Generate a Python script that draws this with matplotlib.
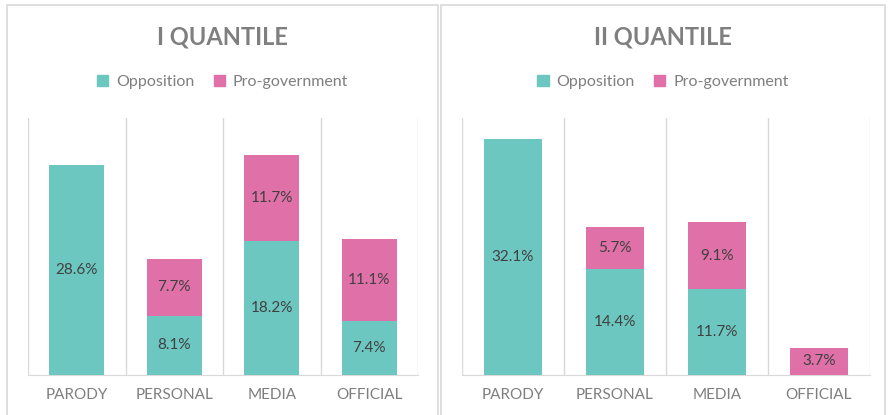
import matplotlib.pyplot as plt
from matplotlib.patches import Rectangle, Patch

plt.rcParams['font.family'] = ['Lato', 'DejaVu Sans']

categories = ["PARODY", "PERSONAL", "MEDIA", "OFFICIAL"]
titles = ["I QUANTILE", "II QUANTILE"]
opposition = [[28.6, 8.1, 18.2, 7.4], [32.1, 14.4, 11.7, 0.0]]
progov = [[0.0, 7.7, 11.7, 11.1], [0.0, 5.7, 9.1, 3.7]]

teal = "#6CC7C1"
pink = "#E070A8"
grid_c = "#D9D9D9"
text_c = "#7F7F7F"
lab_c = "#404040"

W, H = 889, 415
fig = plt.figure(figsize=(W / 100, H / 100), dpi=100)

# panel frames (pixel coords, y from top)
for x0, x1 in [(7, 438), (441, 885)]:
    fig.patches.append(Rectangle((x0 / W, -0.01), (x1 - x0) / W, 1 - 5 / H + 0.01,
                                 transform=fig.transFigure, fill=False,
                                 edgecolor=grid_c, lw=1.2))

axes_px = [(28, 418), (462, 870)]
centers = [(7 + 438) / 2, (441 + 885) / 2]

for i in range(2):
    x0, x1 = axes_px[i]
    ax = fig.add_axes([x0 / W, (H - 375) / H, (x1 - x0) / W, (375 - 118) / H])
    pos = range(len(categories))
    ax.bar(pos, opposition[i], width=0.56, color=teal, zorder=3)
    ax.bar(pos, progov[i], width=0.56, bottom=opposition[i], color=pink, zorder=3)
    for j in pos:
        o, p = opposition[i][j], progov[i][j]
        if o > 0:
            ax.text(j, o / 2, f"{o:.1f}%", ha="center", va="center", color=lab_c, fontsize=11, zorder=4)
        if p > 0:
            ax.text(j, o + p / 2, f"{p:.1f}%", ha="center", va="center", color=lab_c, fontsize=11, zorder=4)
    ax.set_xlim(-0.5, 3.5)
    ax.set_ylim(0, 35)
    for b in [-0.5, 0.5, 1.5, 2.5, 3.5]:
        ax.axvline(b, color=grid_c, lw=1, zorder=1)
    for s in ["top", "left", "right"]:
        ax.spines[s].set_visible(False)
    ax.spines["bottom"].set_color(grid_c)
    ax.set_yticks([])
    ax.set_xticks(list(pos))
    ax.set_xticklabels(categories, color=text_c, fontsize=11)
    ax.tick_params(axis="x", length=0, pad=9)

    fig.text(centers[i] / W, (H - 37) / H, titles[i], ha="center", va="center",
             fontsize=17, fontweight="bold", color=text_c)
    handles = [Patch(color=teal, label="Opposition"), Patch(color=pink, label="Pro-government")]
    fig.legend(handles=handles, loc="center", bbox_to_anchor=(centers[i] / W, (H - 82) / H),
               ncol=2, frameon=False, fontsize=11.5, handlelength=0.7, handleheight=0.7,
               handletextpad=0.5, columnspacing=1.2, labelcolor=text_c)

fig.savefig("out.png", dpi=100)
